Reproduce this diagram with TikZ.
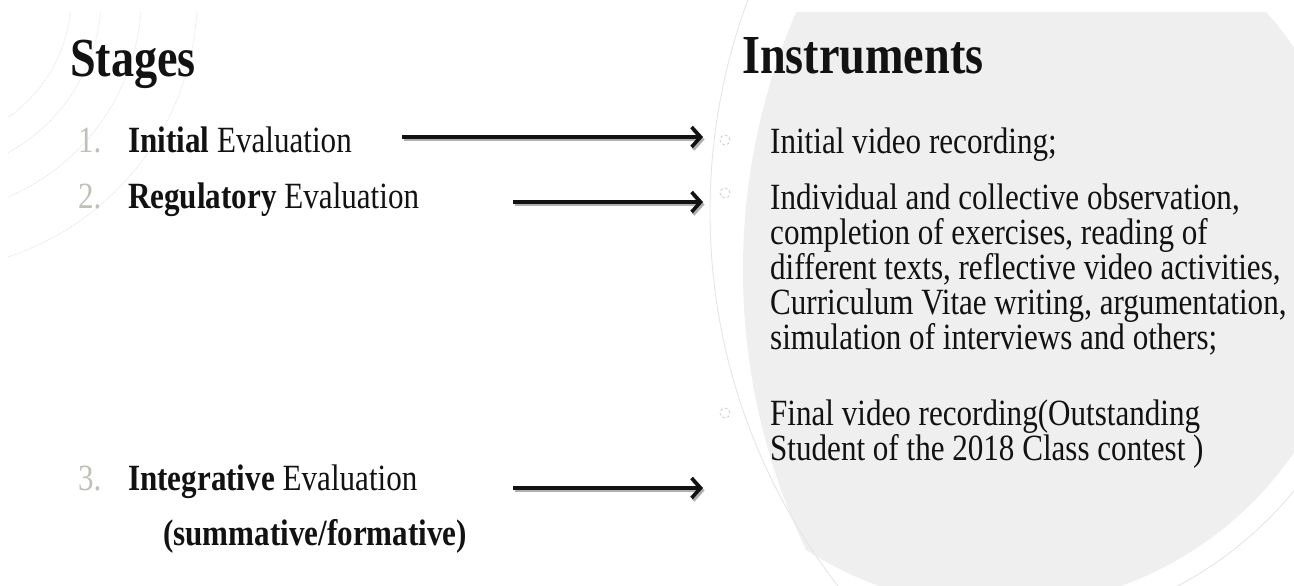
\documentclass[tikz,border=0pt]{standalone}
\usepackage{fontspec}
\setmainfont{Liberation Serif}[FakeStretch=0.84]
\usetikzlibrary{arrows.meta}
\definecolor{bgfill}{RGB}{239,239,239}
\definecolor{numcol}{RGB}{192,192,186}
\definecolor{ringcol}{RGB}{230,230,230}
\definecolor{txt}{RGB}{18,18,18}
\definecolor{shadowcol}{RGB}{175,175,175}
\begin{document}
\begin{tikzpicture}[x=1pt,y=-1pt,
  titletext/.style={anchor=base west, inner sep=0pt, font=\fontsize{55}{55}\selectfont\bfseries, text=txt},
  bodytext/.style={anchor=base west, inner sep=0pt, font=\fontsize{37}{35}\selectfont, text=txt},
  numtext/.style={bodytext, text=numcol},
  paratext/.style={bodytext, align=left},
  bulletmark/.style={circle, draw=numcol!80, densely dashed, line width=0.8pt, minimum size=10pt, inner sep=0pt},
  arrowline/.style={line width=3.6pt, draw=txt, -{Straight Barb[length=9pt,width=20pt]}},
  arrowshadow/.style={line width=3.6pt, draw=shadowcol, -{Straight Barb[length=9pt,width=20pt]}},
  bgarc/.style={draw=ringcol, line width=0.9pt},
  tlarc/.style={draw=ringcol, line width=0.9pt, densely dotted}]
\useasboundingbox (0,0) rectangle (1294,586);
\fill[white] (0,0) rectangle (1294,586);
% background shapes
\begin{scope}
  \clip (1393,270) circle (650pt);
  \clip (1000,250) circle (357pt);
  \fill[bgfill] (0,12) rectangle (1294,586);
\end{scope}
\begin{scope}
  \clip (0,0) rectangle (1294,586);
  \draw[bgarc] (1320,212) circle (610pt);
\end{scope}
\begin{scope}
  \clip (1100,400) rectangle (1294,586);
  \draw[bgarc] (1000,250) circle (380pt);
\end{scope}
\begin{scope}
  \clip (8,13) rectangle (320,320);
  \foreach \r in {149,179,219,275} {
    \draw[tlarc] (-77.6,-4.5) circle (\r pt);
  }
\end{scope}
% titles
\node[titletext] (stages) at (70,77) {Stages};
\node[titletext] (instr) at (742,74) {Instruments};
% stages
\node[numtext] (n1) at (78,152) {1.};
\node[bodytext] (s1) at (128,152) {\textbf{Initial} Evaluation};
\node[numtext] (n2) at (78,208) {2.};
\node[bodytext] (s2) at (128,208) {\textbf{Regulatory} Evaluation};
\node[numtext] (n3) at (78,490) {3.};
\node[bodytext] (s3) at (128,490) {\textbf{Integrative} Evaluation};
\node[bodytext] (s3b) at (163,545) {\textbf{(summative/formative)}};
% bullets
\node[bulletmark] (b1) at (725,140) {};
\node[bulletmark] (b2) at (725,193) {};
\node[bulletmark] (b3) at (725,413) {};
% instruments
\node[bodytext] (i1) at (770,153) {Initial video recording;};
\node[paratext] (i2) at (770,349) {Individual and collective observation,\\
completion of exercises, reading of\\
different texts, reflective video activities,\\
Curriculum Vitae writing, argumentation,\\
simulation of interviews and others;};
\node[paratext] (i3) at (770,460) {Final video recording(Outstanding\\
Student of the 2018 Class contest )};
% arrows
\coordinate (a1s) at (402,137);
\coordinate (a1e) at (703,137);
\coordinate (a2s) at (513,202);
\coordinate (a2e) at (703,202);
\coordinate (a3s) at (513,488);
\coordinate (a3e) at (703,488);
\foreach \s/\e in {a1s/a1e,a2s/a2e,a3s/a3e} {
  \draw[arrowshadow] ([shift={(1.5,2.5)}]\s) -- ([shift={(1.5,2.5)}]\e);
  \draw[arrowline] (\s) -- (\e);
}
\end{tikzpicture}
\end{document}
